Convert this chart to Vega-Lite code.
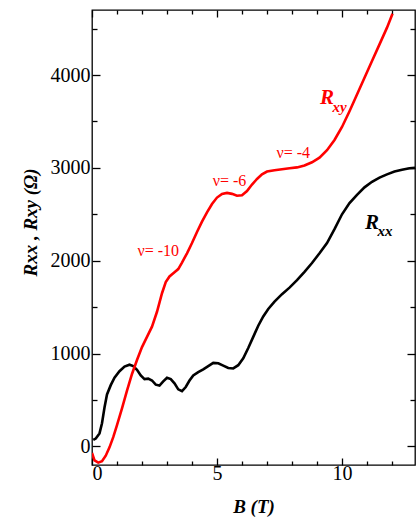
{
  "$schema": "https://vega.github.io/schema/vega-lite/v6.json",
  "width": 323,
  "height": 455,
  "autosize": {"type": "none"},
  "padding": {"left": 92, "top": 10, "right": 4, "bottom": 55},
  "config": {
    "view": {"stroke": "black", "strokeWidth": 1.3},
    "font": "Liberation Serif",
    "axis": {
      "domain": false,
      "grid": false,
      "ticks": true,
      "tickColor": "black",
      "tickWidth": 1.3,
      "labelFont": "Liberation Serif",
      "labelFontSize": 20,
      "labelColor": "black",
      "titleFont": "Liberation Serif",
      "titleColor": "black",
      "titleFontSize": 19,
      "titleFontWeight": "bold",
      "titleFontStyle": "italic"
    }
  },
  "datasets": {
    "curves": [
      {"B": 0.05, "R": 70, "series": "Rxx"}, {"B": 0.15, "R": 85, "series": "Rxx"}, {"B": 0.3, "R": 140, "series": "Rxx"}, {"B": 0.4, "R": 250, "series": "Rxx"}, {"B": 0.5, "R": 420, "series": "Rxx"}, {"B": 0.6, "R": 560, "series": "Rxx"}, {"B": 0.75, "R": 660, "series": "Rxx"}, {"B": 0.9, "R": 740, "series": "Rxx"}, {"B": 1.1, "R": 810, "series": "Rxx"}, {"B": 1.3, "R": 860, "series": "Rxx"}, {"B": 1.5, "R": 880, "series": "Rxx"}, {"B": 1.65, "R": 865, "series": "Rxx"}, {"B": 1.8, "R": 825, "series": "Rxx"}, {"B": 1.95, "R": 765, "series": "Rxx"}, {"B": 2.1, "R": 725, "series": "Rxx"}, {"B": 2.25, "R": 730, "series": "Rxx"}, {"B": 2.4, "R": 710, "series": "Rxx"}, {"B": 2.55, "R": 665, "series": "Rxx"}, {"B": 2.7, "R": 655, "series": "Rxx"}, {"B": 2.85, "R": 700, "series": "Rxx"}, {"B": 3.0, "R": 740, "series": "Rxx"}, {"B": 3.15, "R": 725, "series": "Rxx"}, {"B": 3.3, "R": 680, "series": "Rxx"}, {"B": 3.45, "R": 615, "series": "Rxx"}, {"B": 3.6, "R": 595, "series": "Rxx"}, {"B": 3.75, "R": 640, "series": "Rxx"}, {"B": 3.9, "R": 710, "series": "Rxx"}, {"B": 4.05, "R": 765, "series": "Rxx"}, {"B": 4.25, "R": 800, "series": "Rxx"}, {"B": 4.45, "R": 830, "series": "Rxx"}, {"B": 4.65, "R": 865, "series": "Rxx"}, {"B": 4.85, "R": 900, "series": "Rxx"}, {"B": 5.05, "R": 895, "series": "Rxx"}, {"B": 5.25, "R": 870, "series": "Rxx"}, {"B": 5.45, "R": 845, "series": "Rxx"}, {"B": 5.65, "R": 840, "series": "Rxx"}, {"B": 5.85, "R": 875, "series": "Rxx"}, {"B": 6.05, "R": 950, "series": "Rxx"}, {"B": 6.25, "R": 1060, "series": "Rxx"}, {"B": 6.45, "R": 1180, "series": "Rxx"}, {"B": 6.65, "R": 1300, "series": "Rxx"}, {"B": 6.85, "R": 1400, "series": "Rxx"}, {"B": 7.05, "R": 1480, "series": "Rxx"}, {"B": 7.3, "R": 1560, "series": "Rxx"}, {"B": 7.6, "R": 1640, "series": "Rxx"}, {"B": 7.9, "R": 1710, "series": "Rxx"}, {"B": 8.2, "R": 1790, "series": "Rxx"}, {"B": 8.5, "R": 1880, "series": "Rxx"}, {"B": 8.8, "R": 1975, "series": "Rxx"}, {"B": 9.1, "R": 2080, "series": "Rxx"}, {"B": 9.4, "R": 2190, "series": "Rxx"}, {"B": 9.7, "R": 2340, "series": "Rxx"}, {"B": 10.0, "R": 2500, "series": "Rxx"}, {"B": 10.3, "R": 2620, "series": "Rxx"}, {"B": 10.6, "R": 2710, "series": "Rxx"}, {"B": 10.9, "R": 2790, "series": "Rxx"}, {"B": 11.2, "R": 2850, "series": "Rxx"}, {"B": 11.5, "R": 2895, "series": "Rxx"}, {"B": 11.8, "R": 2930, "series": "Rxx"}, {"B": 12.1, "R": 2960, "series": "Rxx"}, {"B": 12.4, "R": 2980, "series": "Rxx"}, {"B": 12.7, "R": 2995, "series": "Rxx"}, {"B": 12.92, "R": 3000, "series": "Rxx"},
      {"B": 0.0, "R": -70, "series": "Rxy"}, {"B": 0.1, "R": -150, "series": "Rxy"}, {"B": 0.25, "R": -175, "series": "Rxy"}, {"B": 0.4, "R": -160, "series": "Rxy"}, {"B": 0.55, "R": -100, "series": "Rxy"}, {"B": 0.7, "R": -10, "series": "Rxy"}, {"B": 0.85, "R": 100, "series": "Rxy"}, {"B": 1.0, "R": 230, "series": "Rxy"}, {"B": 1.2, "R": 410, "series": "Rxy"}, {"B": 1.4, "R": 600, "series": "Rxy"}, {"B": 1.6, "R": 780, "series": "Rxy"}, {"B": 1.8, "R": 930, "series": "Rxy"}, {"B": 2.0, "R": 1070, "series": "Rxy"}, {"B": 2.2, "R": 1180, "series": "Rxy"}, {"B": 2.4, "R": 1290, "series": "Rxy"}, {"B": 2.6, "R": 1450, "series": "Rxy"}, {"B": 2.8, "R": 1650, "series": "Rxy"}, {"B": 2.95, "R": 1770, "series": "Rxy"}, {"B": 3.1, "R": 1830, "series": "Rxy"}, {"B": 3.3, "R": 1875, "series": "Rxy"}, {"B": 3.45, "R": 1910, "series": "Rxy"}, {"B": 3.6, "R": 1980, "series": "Rxy"}, {"B": 3.8, "R": 2080, "series": "Rxy"}, {"B": 4.0, "R": 2190, "series": "Rxy"}, {"B": 4.2, "R": 2310, "series": "Rxy"}, {"B": 4.4, "R": 2420, "series": "Rxy"}, {"B": 4.6, "R": 2520, "series": "Rxy"}, {"B": 4.8, "R": 2610, "series": "Rxy"}, {"B": 5.0, "R": 2680, "series": "Rxy"}, {"B": 5.2, "R": 2720, "series": "Rxy"}, {"B": 5.4, "R": 2730, "series": "Rxy"}, {"B": 5.6, "R": 2720, "series": "Rxy"}, {"B": 5.8, "R": 2700, "series": "Rxy"}, {"B": 6.0, "R": 2705, "series": "Rxy"}, {"B": 6.2, "R": 2750, "series": "Rxy"}, {"B": 6.4, "R": 2820, "series": "Rxy"}, {"B": 6.6, "R": 2880, "series": "Rxy"}, {"B": 6.8, "R": 2930, "series": "Rxy"}, {"B": 7.0, "R": 2960, "series": "Rxy"}, {"B": 7.3, "R": 2975, "series": "Rxy"}, {"B": 7.6, "R": 2985, "series": "Rxy"}, {"B": 7.9, "R": 2995, "series": "Rxy"}, {"B": 8.2, "R": 3005, "series": "Rxy"}, {"B": 8.5, "R": 3025, "series": "Rxy"}, {"B": 8.8, "R": 3060, "series": "Rxy"}, {"B": 9.1, "R": 3110, "series": "Rxy"}, {"B": 9.4, "R": 3190, "series": "Rxy"}, {"B": 9.7, "R": 3300, "series": "Rxy"}, {"B": 10.0, "R": 3440, "series": "Rxy"}, {"B": 10.3, "R": 3610, "series": "Rxy"}, {"B": 10.6, "R": 3790, "series": "Rxy"}, {"B": 10.9, "R": 3970, "series": "Rxy"}, {"B": 11.2, "R": 4150, "series": "Rxy"}, {"B": 11.5, "R": 4330, "series": "Rxy"}, {"B": 11.8, "R": 4510, "series": "Rxy"}, {"B": 12.02, "R": 4660, "series": "Rxy"}
    ],
    "nu": [
      {"B": 2.65, "R": 2100, "label": "ν= -10"},
      {"B": 5.5, "R": 2860, "label": "ν= -6"},
      {"B": 8.05, "R": 3160, "label": "ν= -4"}
    ],
    "big": [
      {"B": 9.4, "R": 3750, "label": "R", "series": "Rxy"},
      {"B": 11.2, "R": 2410, "label": "R", "series": "Rxx"}
    ],
    "sub": [
      {"B": 9.62, "R": 3660, "label": "xy", "series": "Rxy"},
      {"B": 11.42, "R": 2320, "label": "xx", "series": "Rxx"}
    ]
  },
  "resolve": {"axis": {"x": "independent", "y": "independent"}},
  "layer": [
    {
      "data": {"name": "curves"},
      "mark": {"type": "line", "strokeWidth": 2.6, "clip": true},
      "encoding": {
        "x": {"field": "B", "type": "quantitative", "scale": {"domain": [0, 12.92], "nice": false, "zero": false},
          "axis": {"orient": "bottom", "title": "B (T)", "values": [0,1,2,3,4,5,6,7,8,9,10,11,12],
            "labelExpr": "datum.value % 5 === 0 ? datum.label : ''",
            "tickSize": {"condition": {"test": "datum.value % 5 === 0", "value": -7}, "value": -4},
            "labelPadding": 5, "titlePadding": 14}},
        "y": {"field": "R", "type": "quantitative", "scale": {"domain": [-200, 4700], "nice": false, "zero": false},
          "axis": {"orient": "left", "title": "Rxx , Rxy (Ω)", "values": [0,500,1000,1500,2000,2500,3000,3500,4000,4500],
            "labelExpr": "datum.value % 1000 === 0 ? datum.value : ''",
            "tickSize": {"condition": {"test": "datum.value % 1000 === 0", "value": -8}, "value": -5},
            "labelPadding": 10, "titlePadding": 10, "titleY": 212}},
        "color": {"field": "series", "type": "nominal", "scale": {"domain": ["Rxx", "Rxy"], "range": ["#000000", "#ff0000"]}, "legend": null}
      }
    },
    {
      "data": {"name": "curves"},
      "mark": {"type": "line", "opacity": 0},
      "encoding": {
        "x": {"field": "B", "type": "quantitative",
          "axis": {"orient": "top", "title": null, "labels": false, "values": [0,1,2,3,4,5,6,7,8,9,10,11,12],
            "tickSize": {"condition": {"test": "datum.value % 5 === 0", "value": -7}, "value": -4}}},
        "y": {"field": "R", "type": "quantitative",
          "axis": {"orient": "right", "title": null, "labels": false, "values": [0,500,1000,1500,2000,2500,3000,3500,4000,4500],
            "tickSize": {"condition": {"test": "datum.value % 1000 === 0", "value": -8}, "value": -5}}}
      }
    },
    {
      "data": {"name": "nu"},
      "mark": {"type": "text", "color": "#ff0000", "fontSize": 16, "font": "Liberation Serif", "align": "center", "baseline": "middle"},
      "encoding": {
        "x": {"field": "B", "type": "quantitative", "axis": null},
        "y": {"field": "R", "type": "quantitative", "axis": null},
        "text": {"field": "label"}
      }
    },
    {
      "data": {"name": "big"},
      "mark": {"type": "text", "fontSize": 21, "font": "Liberation Serif", "fontWeight": "bold", "fontStyle": "italic", "align": "center", "baseline": "middle"},
      "encoding": {
        "x": {"field": "B", "type": "quantitative", "axis": null},
        "y": {"field": "R", "type": "quantitative", "axis": null},
        "text": {"field": "label"},
        "color": {"field": "series", "type": "nominal", "legend": null}
      }
    },
    {
      "data": {"name": "sub"},
      "mark": {"type": "text", "fontSize": 15, "font": "Liberation Serif", "fontWeight": "bold", "fontStyle": "italic", "align": "left", "baseline": "middle"},
      "encoding": {
        "x": {"field": "B", "type": "quantitative", "axis": null},
        "y": {"field": "R", "type": "quantitative", "axis": null},
        "text": {"field": "label"},
        "color": {"field": "series", "type": "nominal", "legend": null}
      }
    }
  ]
}
